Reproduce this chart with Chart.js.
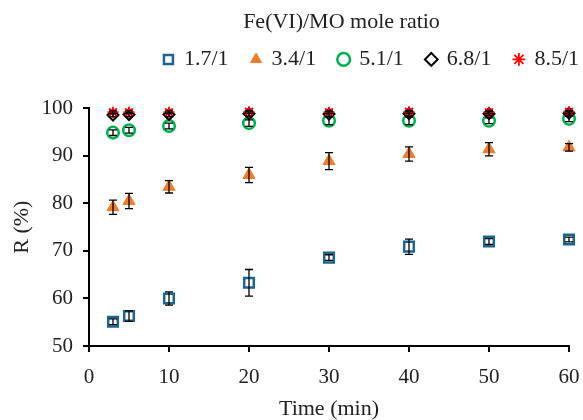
<!DOCTYPE html>
<html>
<head>
<meta charset="utf-8">
<script src="https://cdn.jsdelivr.net/npm/chart.js@4.4.1/dist/chart.umd.min.js"></script>
<style>
  body { margin: 0; background: #fff; }
  #wrap { width: 583px; height: 420px; }
</style>
</head>
<body>
<div id="wrap"><canvas id="ratioChart"></canvas></div>
<script>
// Datos

const times = [3, 5, 10, 20, 30, 40, 50, 60]
const ratios = ['1.7/1', '3.4/1', '5.1/1', '6.8/1', '8.5/1']

const r17 = [55.1, 56.3, 60.0, 63.3, 68.6, 70.9, 72.0, 72.4]
const r34 = [79.2, 80.5, 83.5, 86.0, 88.9, 90.4, 91.4, 91.8]
const r51 = [94.9, 95.4, 96.3, 96.9, 97.4, 97.4, 97.4, 97.8]
const r68 = [98.6, 98.7, 98.7, 98.9, 98.8, 98.9, 98.9, 99.0]
const r85 = [99.2, 99.2, 99.2, 99.3, 99.2, 99.3, 99.2, 99.3]

const err17 = [0.6, 1.1, 1.4, 2.8, 0.6, 1.6, 0.6, 0.5]
const err34 = [1.5, 1.6, 1.3, 1.6, 1.8, 1.5, 1.4, 0.8]
const err51 = [0.6, 0.6, 0.6, 0.7, 0.8, 0.8, 0.6, 0.6]
const err68 = [0.4, 0.4, 0.4, 0.5, 0.5, 0.5, 0.4, 0.4]
const err85 = [0.3, 0.3, 0.3, 0.3, 0.3, 0.3, 0.3, 0.3]

const serif = 'Liberation Serif'

function points(values) {
  return values.map((v, i) => ({ x: times[i], y: v }))
}

// Barras de error dibujadas con las escalas del gráfico
const errorBars = {
  id: 'errorBars',
  afterDatasetsDraw(chart) {
    const { ctx, scales: { x, y } } = chart
    ctx.save()
    ctx.strokeStyle = '#000'
    ctx.lineWidth = 1.3
    chart.data.datasets.forEach(ds => {
      ds.errors.forEach((e, i) => {
        const px = x.getPixelForValue(ds.data[i].x)
        const top = y.getPixelForValue(ds.data[i].y + e)
        const bot = y.getPixelForValue(ds.data[i].y - e)
        ctx.beginPath()
        ctx.moveTo(px, top); ctx.lineTo(px, bot)
        ctx.moveTo(px - 4, top); ctx.lineTo(px + 4, top)
        ctx.moveTo(px - 4, bot); ctx.lineTo(px + 4, bot)
        ctx.stroke()
      })
    })
    ctx.restore()
  }
}

// Ajuste de posición del título y la leyenda
const shiftBoxes = {
  id: 'shiftBoxes',
  afterLayout(chart) {
    const t = chart.titleBlock
    t.left += 50; t.right += 50
    const l = chart.legend
    l.left += 19; l.right += 19
    l.top -= 28; l.bottom -= 28
  }
}

let ctxRatio = document.getElementById('ratioChart')

new Chart(ctxRatio, {
  type: 'scatter',
  data: {
    datasets: [{
      label: ratios[0],
      data: points(r17),
      errors: err17,
      pointStyle: 'rect',
      pointRadius: 6.8,
      pointBorderWidth: 2.5,
      borderColor: '#1B6590',
      backgroundColor: 'rgba(255,255,255,0)',
      clip: false,
      order: 5,
    }, {
      label: ratios[1],
      data: points(r34),
      errors: err34,
      pointStyle: 'triangle',
      pointRadius: 7,
      pointBorderWidth: 1,
      borderColor: '#ED7D31',
      backgroundColor: '#ED7D31',
      clip: false,
      order: 4,
    }, {
      label: ratios[2],
      data: points(r51),
      errors: err51,
      pointStyle: 'circle',
      pointRadius: 5.8,
      pointBorderWidth: 2.5,
      borderColor: '#00B050',
      backgroundColor: 'rgba(255,255,255,0)',
      clip: false,
      order: 3,
    }, {
      label: ratios[3],
      data: points(r68),
      errors: err68,
      pointStyle: 'rectRot',
      pointRadius: 5.5,
      pointBorderWidth: 2,
      borderColor: '#000',
      backgroundColor: 'rgba(255,255,255,0)',
      clip: false,
      order: 2,
    }, {
      label: ratios[4],
      data: points(r85),
      errors: err85,
      pointStyle: 'star',
      pointRadius: 5.5,
      pointBorderWidth: 1.8,
      borderColor: '#FF0000',
      backgroundColor: '#FF0000',
      clip: false,
      order: 1,
    }]
  },
  options: {
    responsive: true,
    maintainAspectRatio: false,
    devicePixelRatio: 1,
    animation: false,
    layout: { padding: 0 },
    plugins: {
      title: {
        display: true,
        text: 'Fe(VI)/MO mole ratio',
        color: '#222',
        font: { family: serif, size: 22, weight: 'normal' },
        padding: { top: 9, bottom: 18 },
      },
      legend: {
        display: true,
        position: 'top',
        align: 'end',
        labels: {
          usePointStyle: true,
          boxWidth: 9,
          boxHeight: 9,
          padding: 23,
          color: '#222',
          font: { family: serif, size: 22 },
          sort: (a, b) => a.datasetIndex - b.datasetIndex,
        }
      },
      tooltip: { enabled: false },
    },
    scales: {
      x: {
        type: 'linear',
        min: 0,
        max: 60,
        ticks: { stepSize: 10, color: '#222', padding: 13, font: { family: serif, size: 21 } },
        grid: { drawOnChartArea: false, drawTicks: true, tickLength: 6, color: '#000', lineWidth: 2 },
        border: { color: '#000', width: 2 },
        title: { display: true, text: 'Time (min)', color: '#222', font: { family: serif, size: 22, lineHeight: 1 }, padding: { top: 0, bottom: 0 } },
        afterFit(scale) { scale.height = 74; scale.paddingRight = 14 },
      },
      y: {
        min: 50,
        max: 100,
        ticks: { stepSize: 10, color: '#222', padding: 10, font: { family: serif, size: 21 } },
        grid: { drawOnChartArea: false, drawTicks: true, tickLength: 6, color: '#000', lineWidth: 2 },
        border: { color: '#000', width: 2 },
        title: { display: true, text: 'R (%)', color: '#222', font: { family: serif, size: 22 }, padding: { top: 9, bottom: 0 } },
        afterFit(scale) { scale.width = 89 },
      }
    }
  },
  plugins: [errorBars, shiftBoxes]
});
</script>
</body>
</html>
